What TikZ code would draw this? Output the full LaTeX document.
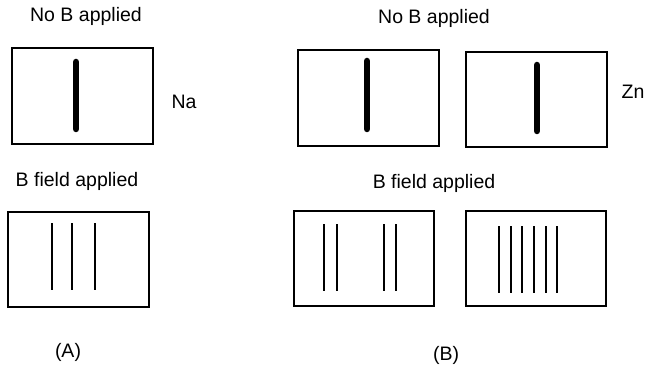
\documentclass[tikz,border=0pt]{standalone}
\usepackage{fontspec}
\setmainfont{Liberation Sans}
\begin{document}
\begin{tikzpicture}[x=1pt,y=-1pt,
  panel/.style={draw, line width=1.8pt, rectangle, inner sep=0pt, anchor=north west},
  label/.style={font=\fontsize{19.5}{22}\selectfont, inner sep=0pt},
  bigline/.style={line width=6.5pt, line cap=round},
  thinline/.style={line width=1.7pt}]
\useasboundingbox (0,0) rectangle (653,366);

% --- (A): sodium ---
\node[label] (tA) at (86,16) {No B applied};
\node[panel, minimum width=141pt, minimum height=96pt] (a1) at (11,47) {};
\draw[bigline] (76,62) -- (76,129);
\node[label] (na) at (184,102) {Na};

\node[label] (fA) at (77,181) {B field applied};
\node[panel, minimum width=141pt, minimum height=95pt] (a2) at (7,211) {};
\foreach \x in {52,72,95} \draw[thinline] (\x,223) -- (\x,290);
\node[label] (capA) at (68,352) {(A)};

% --- (B): zinc ---
\node[label] (tB) at (434,18) {No B applied};
\node[panel, minimum width=141pt, minimum height=96pt] (b1) at (297,49) {};
\draw[bigline] (367,61) -- (367,129);
\node[panel, minimum width=141pt, minimum height=95pt] (b2) at (465,51) {};
\draw[bigline] (537,65) -- (537,131);
\node[label] (zn) at (633,92) {Zn};

\node[label] (fB) at (434,183) {B field applied};
\node[panel, minimum width=140pt, minimum height=95pt] (b3) at (293,210) {};
\foreach \x in {324,337,384,396} \draw[thinline] (\x,224) -- (\x,291);
\node[panel, minimum width=140pt, minimum height=95pt] (b4) at (465,210) {};
\foreach \x in {499,511,522,534,546,557} \draw[thinline] (\x,226) -- (\x,293);
\node[label] (capB) at (446,355) {(B)};
\end{tikzpicture}
\end{document}
